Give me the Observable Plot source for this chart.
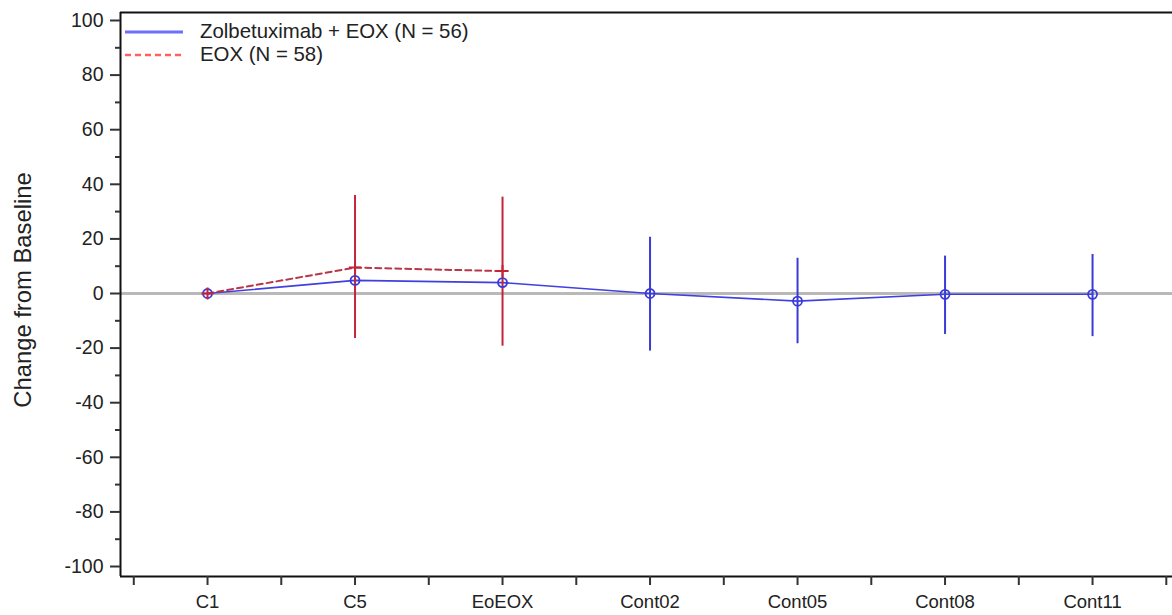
<!DOCTYPE html>
<html>
<head>
<meta charset="utf-8">
<script src="https://cdn.jsdelivr.net/npm/d3@7"></script>
<script src="https://cdn.jsdelivr.net/npm/@observablehq/plot@0.6"></script>
<style>
  html, body { margin: 0; padding: 0; background: #fff; }
  #wrap { position: relative; width: 1172px; height: 615px; overflow: hidden; font-family: "Liberation Sans", Arial, sans-serif; }
  #legend { position: absolute; left: 125px; top: 20px; font-size: 20.4px; color: #222; }
  .row { display: flex; align-items: center; height: 23px; }
  .row svg { margin-right: 17px; }
  #ylabel { position: absolute; left: 23px; top: 290px; transform: translate(-50%, -50%) rotate(-90deg); white-space: nowrap; font-size: 23.8px; color: #222; }
</style>
</head>
<body>
<div id="wrap">
  <div id="chart"></div>
  <div id="legend"></div>
  <div id="ylabel"></div>
</div>
<script>
// ---- data ----
const categories = ["C1", "C5", "EoEOX", "Cont02", "Cont05", "Cont08", "Cont11"];
const zolbMean = [0, 4.8, 4.0, 0, -2.8, -0.3, -0.3];
const zolbLow  = [0, null, null, -21.1, -18.4, -15.0, -15.8];
const zolbHigh = [0, null, null, 20.6, 12.9, 13.7, 14.3];
const eoxCategories = ["C1", "C5", "EoEOX"];
const eoxMean = [0, 9.5, 8.2];
const eoxLow  = [0, -16.5, -19.3];
const eoxHigh = [0, 35.9, 35.3];
const yTicks = [-100, -80, -60, -40, -20, 0, 20, 40, 60, 80, 100];
const yMinorTicks = [-90, -70, -50, -30, -10, 10, 30, 50, 70, 90];
const seriesNames = ["Zolbetuximab + EOX (N = 56)", "EOX (N = 58)"];
const yLabel = "Change from Baseline";

// ---- tables ----
const zolb = categories.map((c, i) => ({ i, c, mean: zolbMean[i], lo: zolbLow[i], hi: zolbHigh[i] }));
const eox = eoxCategories.map((c, k) => ({ i: categories.indexOf(c), c, mean: eoxMean[k], lo: eoxLow[k], hi: eoxHigh[k] }));
const xTickAll = d3.range(-0.5, categories.length, 0.5);

const xDomain = [-0.59, 6.542];
const yDomain = [-103.66, 102.93];

const BLUE = "#3a3ad8";
const RED = "#c3243a";

const chart = Plot.plot({
  width: 1172,
  height: 615,
  marginLeft: 120,
  marginRight: 0,
  marginTop: 12,
  marginBottom: 39,
  style: { fontFamily: "Liberation Sans, Arial, sans-serif", background: "#fff" },
  x: { type: "linear", domain: xDomain },
  y: { domain: yDomain },
  marks: [
    Plot.ruleY([0], { stroke: "#b9b9b9", strokeWidth: 3 }),
    Plot.ruleX(zolb.filter(d => d.lo != null), { x: "i", y1: "lo", y2: "hi", stroke: BLUE, strokeWidth: 2 }),
    Plot.line(zolb, { x: "i", y: "mean", stroke: "#4040e0", strokeWidth: 1.6 }),
    Plot.ruleX(eox, { x: "i", y1: "lo", y2: "hi", stroke: RED, strokeWidth: 2 }),
    Plot.line(eox, { x: "i", y: "mean", stroke: "#b8364a", strokeWidth: 2, strokeDasharray: "6,4" }),
    Plot.dot(zolb, { x: "i", y: "mean", r: 4.5, stroke: BLUE, strokeWidth: 1.8, fill: "none" }),
    Plot.dot(eox, { x: "i", y: "mean", symbol: "plus", r: 4, stroke: RED, strokeWidth: 2 }),
    // frame (left, top, bottom)
    Plot.ruleX([xDomain[0]], { stroke: "#111", strokeWidth: 2 }),
    Plot.ruleY([yDomain[0], yDomain[1]], { stroke: "#111", strokeWidth: 2 }),
    // axes
    Plot.axisY({ ticks: yTicks, tickSize: 10, tickPadding: 7, stroke: "#333", strokeWidth: 2, fontSize: 19.5, fill: "#222", label: null,
      tickFormat: d => String(d) }),
    Plot.axisY({ ticks: yMinorTicks, tickSize: 5, tickFormat: () => "", stroke: "#333", strokeWidth: 2, label: null }),
    Plot.axisX({ ticks: xTickAll, tickSize: 9, tickPadding: 9, stroke: "#333", strokeWidth: 2, fontSize: 18.5, fill: "#222", label: null,
      tickFormat: v => Number.isInteger(v) ? categories[v] : "" })
  ]
});
document.getElementById("chart").appendChild(chart);

// legend
const legend = document.getElementById("legend");
legend.innerHTML =
  `<div class="row"><svg width="58" height="6"><line x1="0" x2="58" y1="3" y2="3" stroke="#6e6eff" stroke-width="3"/></svg><span>${seriesNames[0]}</span></div>` +
  `<div class="row"><svg width="58" height="6"><line x1="0" x2="58" y1="3" y2="3" stroke="#ff5f5f" stroke-width="2.5" stroke-dasharray="6,4"/></svg><span>${seriesNames[1]}</span></div>`;
document.getElementById("ylabel").textContent = yLabel;
</script>
</body>
</html>
